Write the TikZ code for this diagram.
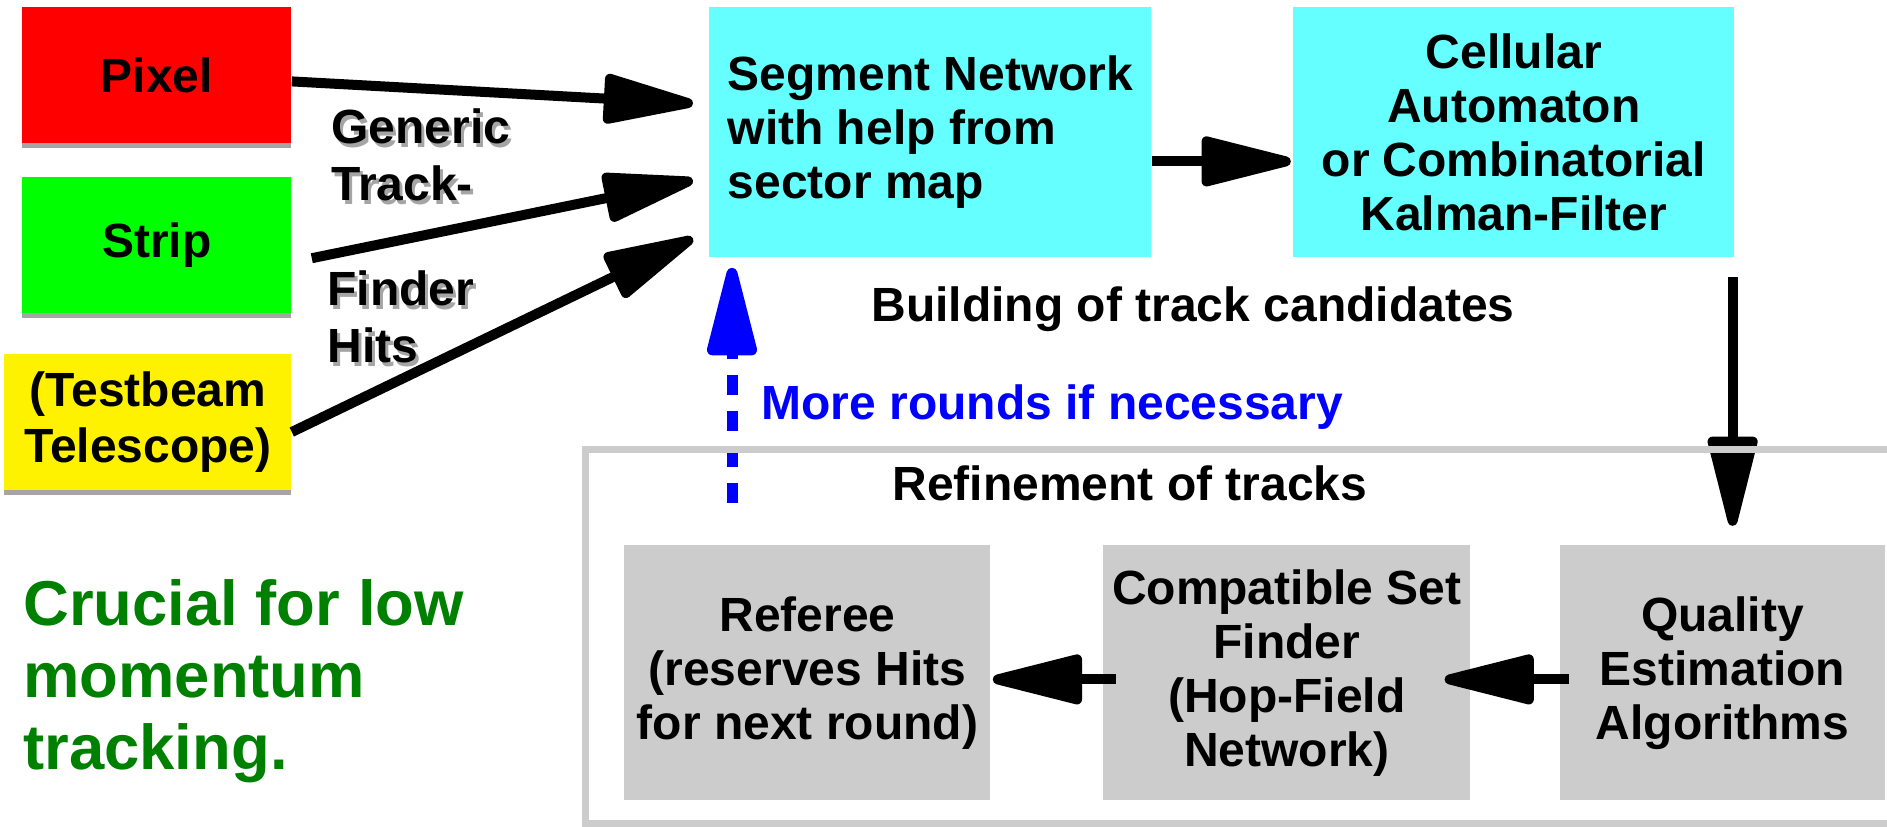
\documentclass[tikz,border=0pt]{standalone}
\usepackage{fontspec}
\setmainfont{Liberation Sans}
\usetikzlibrary{arrows.meta,positioning,shadows}
\definecolor{boxcyan}{RGB}{102,255,255}
\definecolor{boxgray}{RGB}{204,204,204}
\definecolor{shadowgray}{RGB}{165,165,165}
\definecolor{notegreen}{RGB}{0,128,0}

\begin{document}
\begin{tikzpicture}[x=0.5pt,y=-0.5pt,font=\fontsize{24}{27}\selectfont\bfseries,
	detector/.style={rectangle, minimum width=134.5pt, minimum height=68pt, inner sep=0pt, align=center, drop shadow={shadow xshift=0pt, shadow yshift=-2.5pt, fill=shadowgray, opacity=1}},
	finder/.style={rectangle, fill=boxcyan, minimum width=221pt, minimum height=125pt, inner sep=0pt},
	refine/.style={rectangle, fill=boxgray, minimum height=127.5pt, inner sep=0pt, align=center},
	caption/.style={inner sep=0pt, align=left},
	links/.style={-{Triangle[length=53pt,width=25pt,round]}, line width=5pt}]
	
	\useasboundingbox (0,0) rectangle (1887,826);
	\clip (0,0) rectangle (1887,826);
	
	% detector inputs
	\node[detector, fill=red, anchor=north west] (pixel) at (22,7) {Pixel};
	\node[detector, fill=green, below = 16.5pt of pixel] (strip) {Strip};
	\node[detector, fill=yellow, minimum width=143.5pt, below left = 20pt and 0pt of strip.south east, font=\fontsize{24}{28}\selectfont\bfseries] (testbeam) {(Testbeam\\Telescope)};
	
	\node[caption, text=shadowgray, anchor=base west, font=\fontsize{24}{28.5}\selectfont\bfseries] (hits-shadow1) at (334,204) {Generic\\Track-};
	\node[caption, anchor=base west, font=\fontsize{24}{28.5}\selectfont\bfseries] (hits1) at (331,200) {Generic\\Track-};
	\node[caption, text=shadowgray, anchor=base west, font=\fontsize{24}{28.5}\selectfont\bfseries] (hits-shadow2) at (330,366) {Finder\\Hits};
	\node[caption, anchor=base west, font=\fontsize{24}{28.5}\selectfont\bfseries] (hits2) at (327,362) {Finder\\Hits};
	
	% building of track candidates
	\node[finder, anchor=north west, align=left] (segment) at (709,7) {Segment Network\\with help from\\sector map};
	\node[finder, right = 70.5pt of segment, minimum width=220.5pt, align=center] (cellular) {Cellular\\Automaton\\or Combinatorial\\Kalman-Filter};
	\node[caption, anchor=base] (building) at (1193,321) {Building of track candidates};
	
	\draw[links] ([yshift=-3pt]pixel.east) -- ([xshift=-8pt,yshift=14.5pt]segment.west);
	\draw[links] ([xshift=10pt,yshift=-6.5pt]strip.east) -- ([xshift=-8pt,yshift=-24pt]segment.west);
	\draw[links] ([yshift=-5pt]testbeam.east) -- ([xshift=-8pt,yshift=-53pt]segment.west);
	\draw[links] ([yshift=-14.5pt]segment.east) -- ([xshift=-1pt,yshift=-14.5pt]cellular.west);
	
	% refinement of tracks
	\node[refine, anchor=north west, minimum width=183pt] (referee) at (624,545) {Referee\\(reserves Hits\\for next round)};
	\node[refine, right = 56pt of referee, minimum width=183.5pt] (compatible) {Compatible Set\\Finder\\(Hop-Field\\Network)};
	\node[refine, right = 44.5pt of compatible, minimum width=162.5pt] (quality) {Quality\\Estimation\\Algorithms};
	\node[caption, anchor=base west] (refinement) at (892,500) {Refinement of tracks};
	
	\draw[links] ([xshift=-1pt,yshift=-9.5pt]cellular.south east) -- ([xshift=-1pt,yshift=-134pt]cellular.south east);
	\draw[links] ([xshift=4.5pt,yshift=-3.25pt]quality.west) -- ([xshift=-13pt,yshift=-3.25pt]compatible.east);
	\draw[links] ([xshift=6.5pt,yshift=-3.25pt]compatible.west) -- ([xshift=1pt,yshift=-3.25pt]referee.east);
	
	% feedback loop
	\coordinate (rounds-start) at (732,503);
	\draw[links, blue, line width=5.5pt, dash pattern=on 10pt off 8pt] (rounds-start) -- ([xshift=11.5pt,yshift=-5pt]segment.south west);
	\node[caption, anchor=base west, text=blue] (rounds) at (761,419) {More rounds if necessary};
	
	\draw[boxgray, line width=3.5pt] (585,449) rectangle (1960,823);
	
	\node[caption, anchor=base west, text=notegreen, font=\fontsize{31.7}{36}\selectfont\bfseries] (crucial) at (23,769) {Crucial for low\\momentum\\tracking.};
	
\end{tikzpicture}
\end{document}
